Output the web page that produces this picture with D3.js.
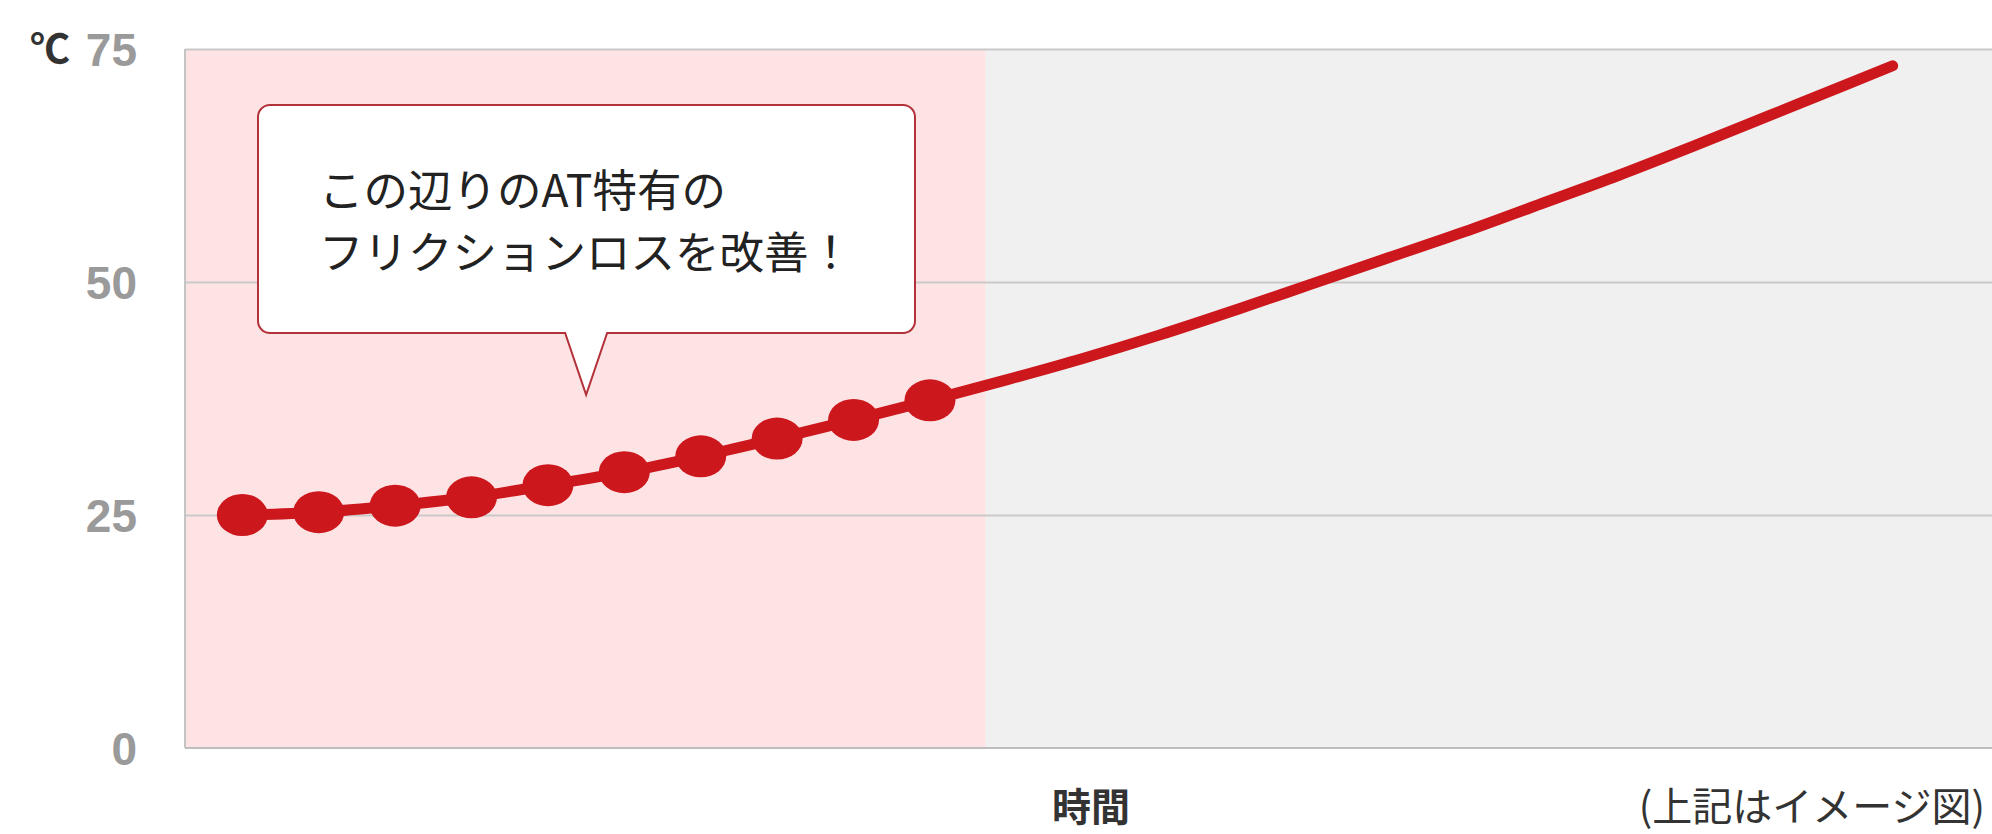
<!DOCTYPE html>
<html>
<head>
<meta charset="utf-8">
<script src="https://cdn.jsdelivr.net/npm/d3@7"></script>
<style>
  html, body { margin: 0; padding: 0; background: #ffffff; }
  svg { display: block; }
</style>
</head>
<body>
<script>
// ---------------- data ----------------
const yTicks = [0, 25, 50, 75];
const gridValues = [25, 50, 75];
const unitLabel = "℃";
const xAxisTitle = "時間";
const noteText = "(上記はイメージ図)";
const calloutLines = ["この辺りのAT特有の", "フリクションロスを改善！"];

// time index of the dotted (AT friction) part
const dotTimes = [0, 1, 2, 3, 4, 5, 6, 7, 8, 9];
const dotTemps = [25.0, 25.3, 26.0, 26.9, 28.2, 29.6, 31.3, 33.2, 35.2, 37.3];

// continuation of the curve
const curveTimes = [10, 11, 12, 13, 14, 15, 16, 17, 18, 19, 20, 21, 21.6];
const curveTemps = [39.5, 41.8, 44.3, 47.0, 49.8, 52.6, 55.4, 58.4, 61.4, 64.6, 67.9, 71.2, 73.2];

const xDomain = [-0.75, 22.9];
const yDomain = [0, 75];
const shadeEnd = 9.73;          // end of pink zone (time index)
const calloutTipTime = 4.5;     // where the callout points
const calloutTipTemp = 37.9;

// ---------------- layout ----------------
(function () {
const W = 1992, H = 834;
const mLeft = 185, mRight = 1992, mTop = 49, mBottom = 748;

const svg = d3.select("body").append("svg")
  .attr("width", W).attr("height", H);

const x = d3.scaleLinear().domain(xDomain).range([mLeft, mRight]);
const y = d3.scaleLinear().domain(yDomain).range([mBottom, mTop]);

// backgrounds
svg.append("rect")
  .attr("x", x(xDomain[0])).attr("y", y(75))
  .attr("width", x(shadeEnd) - x(xDomain[0]))
  .attr("height", y(0) - y(75))
  .attr("fill", "#fde3e4");
svg.append("rect")
  .attr("x", x(shadeEnd)).attr("y", y(75))
  .attr("width", x(xDomain[1]) - x(shadeEnd))
  .attr("height", y(0) - y(75))
  .attr("fill", "#f0f0f0");

// gridlines
const grid = svg.append("g")
  .attr("transform", `translate(${mLeft},0)`)
  .call(d3.axisLeft(y).tickValues(gridValues).tickSize(-(mRight - mLeft)).tickFormat(""));
grid.select(".domain").remove();
grid.selectAll("line").attr("stroke", "#c9c9c9").attr("stroke-width", 2);

// bottom & left frame
svg.append("line")
  .attr("x1", mLeft).attr("x2", mRight).attr("y1", y(0)).attr("y2", y(0))
  .attr("stroke", "#bdbdbd").attr("stroke-width", 2);
svg.append("line")
  .attr("x1", mLeft).attr("x2", mLeft).attr("y1", y(75)).attr("y2", y(0))
  .attr("stroke", "#c4c4c4").attr("stroke-width", 2);

// y tick labels
const yAxis = svg.append("g")
  .attr("transform", `translate(${mLeft},0)`)
  .call(d3.axisLeft(y).tickValues(yTicks).tickSize(0).tickPadding(48));
yAxis.select(".domain").remove();
yAxis.selectAll("text")
  .attr("fill", "#9a9a9a")
  .attr("font-family", "'Liberation Sans', Arial, sans-serif")
  .attr("font-weight", "bold")
  .attr("font-size", 46)
  .attr("dy", "0.36em");

// unit label
svg.append("text")
  .attr("x", 70).attr("y", y(75)).attr("dy", "0.36em")
  .attr("text-anchor", "end")
  .attr("fill", "#333")
  .attr("font-family", "'Noto Sans CJK JP', sans-serif")
  .attr("font-weight", "bold")
  .attr("font-size", 40)
  .text(unitLabel);

// line
const pts = dotTimes.map((t, i) => [t, dotTemps[i]])
  .concat(curveTimes.map((t, i) => [t, curveTemps[i]]));
const line = d3.line().x(d => x(d[0])).y(d => y(d[1])).curve(d3.curveMonotoneX);
svg.append("path")
  .datum(pts)
  .attr("d", line)
  .attr("fill", "none")
  .attr("stroke", "#cc171d")
  .attr("stroke-width", 11)
  .attr("stroke-linecap", "round")
  .attr("stroke-linejoin", "round");

// dots
svg.append("g").selectAll("ellipse")
  .data(dotTimes.map((t, i) => [t, dotTemps[i]]))
  .join("ellipse")
  .attr("cx", d => x(d[0]))
  .attr("cy", d => y(d[1]))
  .attr("rx", 25.5)
  .attr("ry", 21)
  .attr("fill", "#cc171d");

// callout
const bx0 = 258, bx1 = 915, by0 = 105, by1 = 333, r = 12;
const tipX = x(calloutTipTime), tipY = y(calloutTipTemp);
const p = d3.path();
p.moveTo(bx0 + r, by0);
p.lineTo(bx1 - r, by0);
p.arcTo(bx1, by0, bx1, by0 + r, r);
p.lineTo(bx1, by1 - r);
p.arcTo(bx1, by1, bx1 - r, by1, r);
p.lineTo(tipX + 21, by1);
p.lineTo(tipX, tipY);
p.lineTo(tipX - 21, by1);
p.lineTo(bx0 + r, by1);
p.arcTo(bx0, by1, bx0, by1 - r, r);
p.lineTo(bx0, by0 + r);
p.arcTo(bx0, by0, bx0 + r, by0, r);
p.closePath();
svg.append("path")
  .attr("d", p.toString())
  .attr("fill", "#ffffff")
  .attr("stroke", "#b3323a")
  .attr("stroke-width", 2);

svg.append("g").selectAll("text")
  .data(calloutLines)
  .join("text")
  .attr("x", 319)
  .attr("y", (d, i) => 187 + i * 62)
  .attr("dominant-baseline", "central")
  .attr("fill", "#222")
  .attr("font-family", "'Noto Sans CJK JP', sans-serif")
  .attr("font-weight", "normal")
  .attr("font-size", 44.5)
  .text(d => d);

// x title and note
svg.append("text")
  .attr("x", 1091).attr("y", 804)
  .attr("text-anchor", "middle").attr("dominant-baseline", "central")
  .attr("fill", "#333")
  .attr("font-family", "'Noto Sans CJK JP', sans-serif")
  .attr("font-weight", "bold")
  .attr("font-size", 39)
  .text(xAxisTitle);

svg.append("text")
  .attr("x", 1985).attr("y", 804)
  .attr("text-anchor", "end").attr("dominant-baseline", "central")
  .attr("fill", "#333")
  .attr("font-family", "'Noto Sans CJK JP', sans-serif")
  .attr("font-size", 40)
  .text(noteText);
})();
</script>
</body>
</html>
